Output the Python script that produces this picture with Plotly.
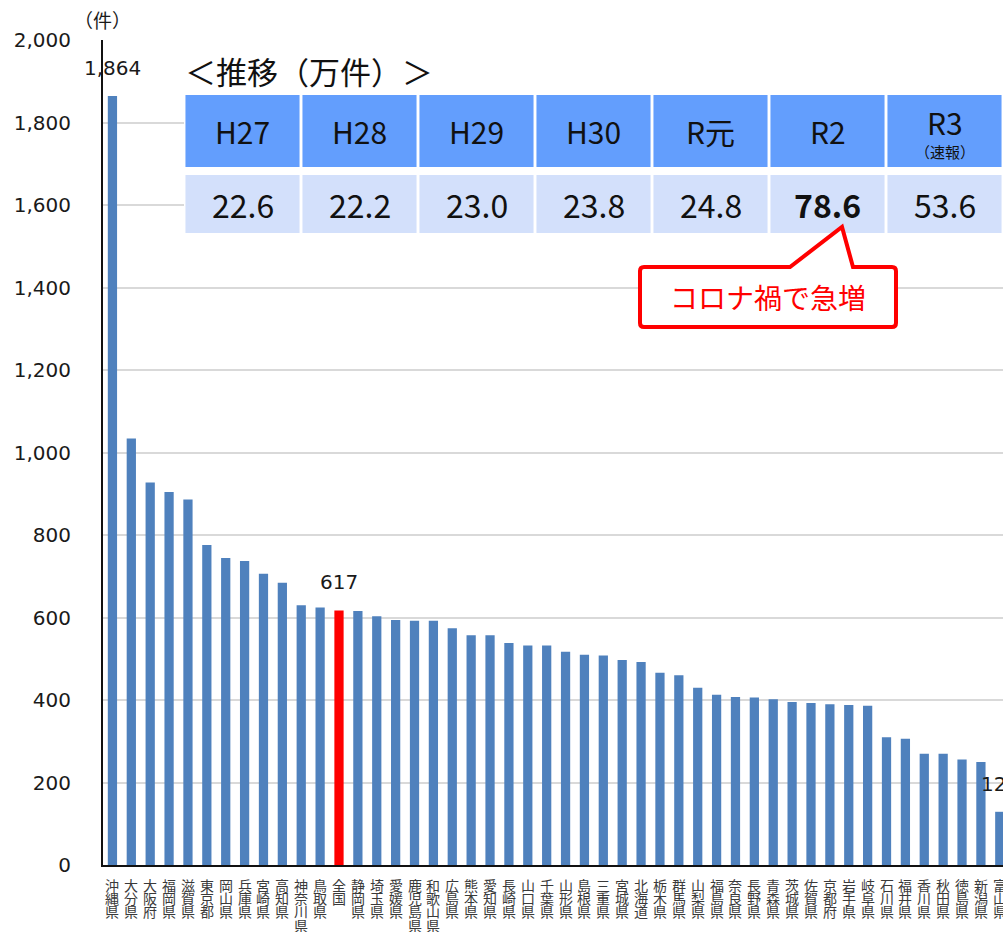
import plotly.graph_objects as go

# 人口10万人あたりの件数（都道府県別）
prefectures = ["沖縄県", "大分県", "大阪府", "福岡県", "滋賀県", "東京都", "岡山県", "兵庫県",
               "宮崎県", "高知県", "神奈川県", "鳥取県", "全国", "静岡県", "埼玉県", "愛媛県",
               "鹿児島県", "和歌山県", "広島県", "熊本県", "愛知県", "長崎県", "山口県", "千葉県",
               "山形県", "島根県", "三重県", "宮城県", "北海道", "栃木県", "群馬県", "山梨県",
               "福島県", "奈良県", "長野県", "青森県", "茨城県", "佐賀県", "京都府", "岩手県",
               "岐阜県", "石川県", "福井県", "香川県", "秋田県", "徳島県", "新潟県", "富山県"]
counts = [1864, 1034, 927, 904, 886, 776, 744, 737, 706, 684, 630, 624, 617, 616, 603, 594,
          592, 592, 574, 557, 557, 538, 532, 532, 517, 510, 508, 497, 492, 466, 460, 430,
          413, 407, 406, 402, 395, 393, 390, 388, 386, 310, 306, 270, 270, 256, 250, 129]
labelled = ["沖縄県", "全国", "富山県"]
highlight = "全国"

# 推移（万件）
years = ["H27", "H28", "H29", "H30", "R元", "R2", "R3"]
year_totals = [22.6, 22.2, 23.0, 23.8, 24.8, 78.6, 53.6]
year_notes = {"R3": "（速報）"}
peak_year = "R2"

y_ticks = [0, 200, 400, 600, 800, 1000, 1200, 1400, 1600, 1800, 2000]

# ---- layout geometry (pixels) ----
W, H = 1003, 932
ML, MR, MT, MB = 103, 0, 40, 67
PW, PH = W - ML - MR, H - MT - MB


def px_x(x):
    return (x - ML) / PW


def px_y(y):
    return (H - MB - y) / PH


BAR_BLUE = "#4f81bd"
HEAD_BLUE = "#639efd"
CELL_BLUE = "#d3e0fb"
NUM_FONT = "DejaVu Sans"
JP_FONT = "Noto Sans CJK JP"

fig = go.Figure()

fig.add_trace(go.Bar(
    x=prefectures, y=counts, width=0.49,
    marker=dict(color=[("#ff0000" if p == highlight else BAR_BLUE) for p in prefectures],
                line=dict(width=0)),
    hoverinfo="x+y", showlegend=False,
))

# table drawn as bars on a hidden subplot: value row (lower) and header row (upper)
VAL_H, GAP, HEAD_H = 0.58, 0.08, 0.72
fig.add_trace(go.Bar(
    x=years, y=[VAL_H] * len(years), base=0, width=0.975,
    marker=dict(color=CELL_BLUE, line=dict(width=0)),
    xaxis="x2", yaxis="y2", hoverinfo="skip", showlegend=False,
))
fig.add_trace(go.Bar(
    x=years, y=[HEAD_H] * len(years), base=VAL_H + GAP, width=0.975,
    marker=dict(color=HEAD_BLUE, line=dict(width=0)),
    xaxis="x2", yaxis="y2", hoverinfo="skip", showlegend=False,
))

annotations = []

# value labels above selected bars
for p, v in zip(prefectures, counts):
    if p in labelled:
        annotations.append(dict(
            x=p, y=v, xref="x", yref="y", text=f"{v:,}", showarrow=False,
            yanchor="middle", yshift=28,
            font=dict(family=NUM_FONT, size=20, color="#1a1a1a"),
        ))

# vertical category labels, one character per line
for p in prefectures:
    for k, ch in enumerate(p):
        annotations.append(dict(
            x=p, xref="x", y=px_y(884.5 + 13.4 * k), yref="paper", text=ch,
            showarrow=False, xanchor="center", yanchor="middle", borderpad=0,
            font=dict(family=JP_FONT, size=14, color="#3a3a3a"),
        ))

# table texts
for yr, tot in zip(years, year_totals):
    if yr in year_notes:
        annotations.append(dict(
            x=yr, xref="x2", y=VAL_H + GAP + HEAD_H * 0.62, yref="y2", text=yr,
            showarrow=False, yanchor="middle",
            font=dict(family=JP_FONT, size=30, color="#111111"),
        ))
        annotations.append(dict(
            x=yr, xref="x2", y=VAL_H + GAP + HEAD_H * 0.21, yref="y2", text=year_notes[yr],
            showarrow=False, yanchor="middle",
            font=dict(family=JP_FONT, size=15, color="#111111"),
        ))
    else:
        annotations.append(dict(
            x=yr, xref="x2", y=VAL_H + GAP + HEAD_H / 2, yref="y2", text=yr,
            showarrow=False, yanchor="middle",
            font=dict(family=JP_FONT, size=30, color="#111111"),
        ))
    txt = f"{tot:.1f}"
    if yr == peak_year:
        txt = f"<b>{txt}</b>"
    annotations.append(dict(
        x=yr, xref="x2", y=VAL_H / 2, yref="y2", text=txt,
        showarrow=False, yanchor="middle",
        font=dict(family=JP_FONT, size=32, color="#111111"),
    ))

# unit label and table title
annotations.append(dict(
    x=px_x(102), y=px_y(19), xref="paper", yref="paper", text="（件）",
    showarrow=False, xanchor="center", yanchor="middle",
    font=dict(family=JP_FONT, size=19, color="#1a1a1a"),
))
annotations.append(dict(
    x=px_x(183), y=px_y(70), xref="paper", yref="paper", text="＜推移（万件）＞",
    showarrow=False, xanchor="left", yanchor="middle",
    font=dict(family=JP_FONT, size=31, color="#111111"),
))
annotations.append(dict(
    x=px_x(768), y=px_y(297), xref="paper", yref="paper", text="コロナ禍で急増",
    showarrow=False, xanchor="center", yanchor="middle",
    font=dict(family=JP_FONT, size=28, color="#ff0000"),
))

# callout balloon
pts = [(644, 267), (790, 267), (842, 227), (853, 267), (892, 267)]
path = "M " + " L ".join(f"{px_x(a):.5f},{px_y(b):.5f}" for a, b in pts)
path += (f" Q {px_x(896):.5f},{px_y(267):.5f} {px_x(896):.5f},{px_y(271):.5f}"
         f" L {px_x(896):.5f},{px_y(323):.5f}"
         f" Q {px_x(896):.5f},{px_y(327):.5f} {px_x(892):.5f},{px_y(327):.5f}"
         f" L {px_x(644):.5f},{px_y(327):.5f}"
         f" Q {px_x(640):.5f},{px_y(327):.5f} {px_x(640):.5f},{px_y(323):.5f}"
         f" L {px_x(640):.5f},{px_y(271):.5f}"
         f" Q {px_x(640):.5f},{px_y(267):.5f} {px_x(644):.5f},{px_y(267):.5f} Z")
shapes = [dict(type="path", path=path, xref="paper", yref="paper",
               fillcolor="white", line=dict(color="#ff0000", width=4), layer="above")]

fig.update_layout(
    width=W, height=H,
    margin=dict(l=ML, r=MR, t=MT, b=MB, pad=0),
    paper_bgcolor="white", plot_bgcolor="white",
    barmode="overlay",
    showlegend=False,
    xaxis=dict(
        type="category", range=[-0.5, 47.17], showticklabels=False, ticks="",
        showgrid=False, zeroline=False, showline=True, linecolor="#111111", linewidth=2,
        fixedrange=True,
    ),
    yaxis=dict(
        range=[0, 2000], tickvals=y_ticks, tickformat=",d", ticks="",
        ticklabelstandoff=26,
        tickfont=dict(family=NUM_FONT, size=20, color="#1a1a1a"),
        showgrid=True, gridcolor="#d9d9d9", gridwidth=2,
        zeroline=False, showline=True, linecolor="#111111", linewidth=2,
        fixedrange=True,
    ),
    xaxis2=dict(
        type="category", domain=[px_x(184), 1.0], anchor="y2",
        range=[-0.5, 6.5], visible=False, fixedrange=True,
    ),
    yaxis2=dict(
        domain=[px_y(233), px_y(95)], anchor="x2",
        range=[0, VAL_H + GAP + HEAD_H], visible=False, fixedrange=True,
    ),
    annotations=annotations,
    shapes=shapes,
)

fig.write_html("out.html")
